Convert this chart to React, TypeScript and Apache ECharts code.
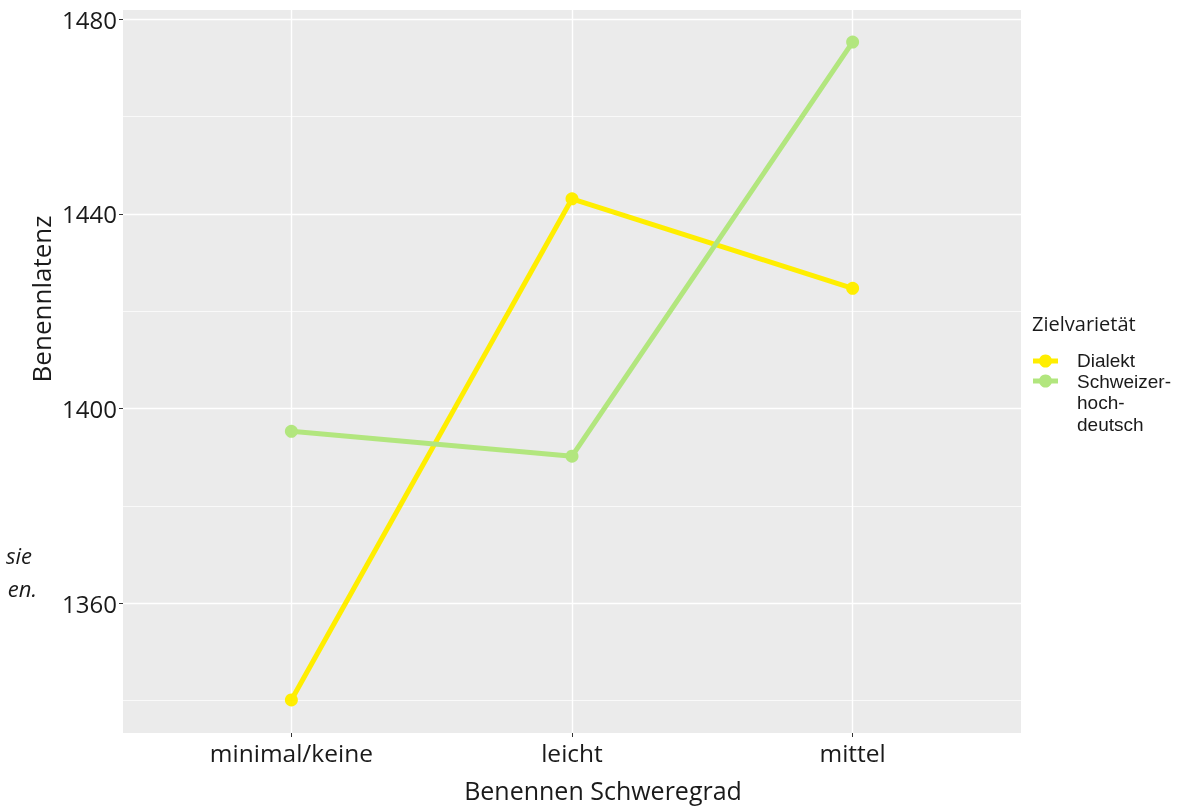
import React, { useEffect, useRef } from "react";
import * as echarts from "echarts";

const categories = ["minimal/keine", "leicht", "mittel"];
const categoryPositions = [1, 2, 3];
const dialektValues = [1340.1, 1443.1, 1424.7];
const hochdeutschValues = [1395.3, 1390.2, 1475.3];
const majorTicks = [1360, 1400, 1440, 1480];
const minorTicks = [1340, 1380, 1420, 1460];
const seriesNames = ["Dialekt", "Schweizerhochdeutsch"];
const legendLines = ["Schweizer-", "hoch-", "deutsch"];

const FONT = "Open Sans";
const LEGEND_FONT = "Liberation Sans";
const TXT = "#1a1a1a";
const YELLOW = "#FFEE00";
const GREEN = "#B2E67E";

export default function App() {
  const ref = useRef<HTMLDivElement>(null);
  useEffect(() => {
    if (!ref.current) return;
    const chart = echarts.init(ref.current, null, { renderer: "svg" });
    const toPairs = (vals: number[]) => vals.map((v, i) => [categoryPositions[i], v]);
    chart.setOption({
      animation: false,
      textStyle: { fontFamily: FONT },
      grid: {
        left: 123,
        top: 10,
        right: 156,
        bottom: 74,
        show: true,
        backgroundColor: "#EBEBEB",
        borderWidth: 0,
        containLabel: false,
      },
      xAxis: {
        type: "value",
        min: 0.4,
        max: 3.6,
        axisLine: { show: false },
        axisTick: { show: true, length: 4, customValues: categoryPositions, lineStyle: { color: "#333", width: 1 } },
        axisLabel: {
          customValues: categoryPositions,
          margin: 7,
          fontSize: 24.5,
          color: TXT,
          fontFamily: FONT,
          formatter: (v: number) => categories[categoryPositions.indexOf(Math.round(v))] ?? "",
        },
        splitLine: { show: true, lineStyle: { color: "#FFFFFF", width: 1.4 } },
      },
      yAxis: [
        {
          type: "value",
          min: 1333.3,
          max: 1481.9,
          axisLine: { show: false },
          axisTick: { show: true, length: 4, customValues: majorTicks, lineStyle: { color: "#333", width: 1 } },
          axisLabel: {
            customValues: majorTicks,
            margin: 6,
            fontSize: 24,
            color: TXT,
            fontFamily: FONT,
            formatter: (v: number) => String(Math.round(v)),
          },
          splitLine: { show: true, lineStyle: { color: "#FFFFFF", width: 1.4 } },
        },
        {
          type: "value",
          min: 1333.3,
          max: 1481.9,
          position: "left",
          axisLine: { show: false },
          axisTick: { show: false, customValues: minorTicks },
          axisLabel: { show: false, customValues: minorTicks },
          splitLine: { show: true, lineStyle: { color: "#FFFFFF", width: 0.7 } },
        },
      ],
      series: [
        {
          name: seriesNames[0],
          type: "line",
          data: toPairs(dialektValues),
          color: YELLOW,
          lineStyle: { width: 5, color: YELLOW },
          itemStyle: { color: YELLOW },
          symbol: "circle",
          symbolSize: 13,
          z: 3,
        },
        {
          name: seriesNames[1],
          type: "line",
          data: toPairs(hochdeutschValues),
          color: GREEN,
          lineStyle: { width: 5, color: GREEN },
          itemStyle: { color: GREEN },
          symbol: "circle",
          symbolSize: 13,
          z: 4,
        },
      ],
      graphic: [
        {
          type: "text",
          x: 41,
          y: 299,
          rotation: Math.PI / 2,
          style: { text: "Benennlatenz", fontSize: 26, fill: TXT, fontFamily: FONT, align: "center", verticalAlign: "middle" },
        },
        {
          type: "text",
          x: 603,
          y: 790,
          style: { text: "Benennen Schweregrad", fontSize: 25, fill: TXT, fontFamily: FONT, align: "center", verticalAlign: "middle" },
        },
        {
          type: "text",
          x: 32,
          y: 555,
          style: { text: "sie", fontSize: 22, fontStyle: "italic", fill: TXT, fontFamily: FONT, align: "right", verticalAlign: "middle" },
        },
        {
          type: "text",
          x: 37,
          y: 588,
          style: { text: "en.", fontSize: 22, fontStyle: "italic", fill: TXT, fontFamily: FONT, align: "right", verticalAlign: "middle" },
        },
        {
          type: "text",
          x: 1032,
          y: 323,
          style: { text: "Zielvarietät", fontSize: 20, fill: TXT, fontFamily: FONT, align: "left", verticalAlign: "middle" },
        },
        { type: "line", shape: { x1: 1033, y1: 361, x2: 1058, y2: 361 }, style: { stroke: YELLOW, lineWidth: 5 } },
        { type: "circle", shape: { cx: 1045.5, cy: 361, r: 6.5 }, style: { fill: YELLOW } },
        { type: "line", shape: { x1: 1033, y1: 381, x2: 1058, y2: 381 }, style: { stroke: GREEN, lineWidth: 5 } },
        { type: "circle", shape: { cx: 1045.5, cy: 381, r: 6.5 }, style: { fill: GREEN } },
        {
          type: "text",
          x: 1077,
          y: 360,
          style: { text: seriesNames[0], fontSize: 19, lineHeight: 19, fill: TXT, fontFamily: LEGEND_FONT, align: "left", verticalAlign: "middle" },
        },
        ...legendLines.map((t, i) => ({
          type: "text",
          x: 1077,
          y: 381.5 + i * 21.3,
          style: { text: t, fontSize: 19, lineHeight: 19, fill: TXT, fontFamily: LEGEND_FONT, align: "left", verticalAlign: "middle" },
        })),
      ],
    });
    return () => chart.dispose();
  }, []);
  return <div ref={ref} style={{ position: "fixed", left: 0, top: 0, width: 1177, height: 807 }} />;
}
